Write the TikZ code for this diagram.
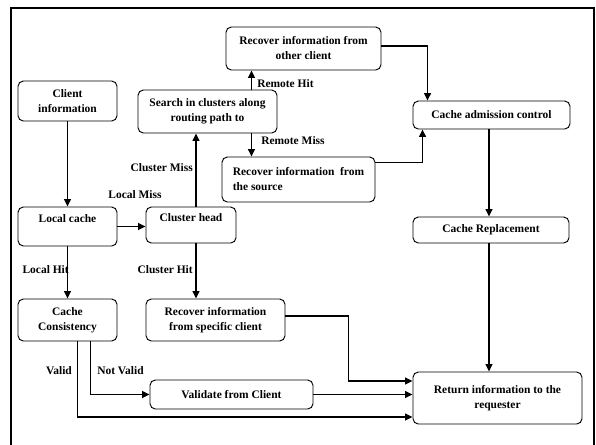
\documentclass[tikz,border=0pt]{standalone}
\usepackage{fontspec}
\setmainfont{Liberation Serif}
\usetikzlibrary{arrows.meta,calc}
\begin{document}
\begin{tikzpicture}[x=0.75pt,y=-0.75pt,
  every node/.style={font=\fontsize{8.6}{11.25}\selectfont\bfseries},
  box/.style={draw, rounded corners=4pt, line width=0.7pt, align=center, inner sep=0pt},
  lbl/.style={inner sep=0pt},
  arr/.style={line width=1.4pt, -{Triangle[length=5.5pt,width=5pt]}}]
\useasboundingbox (0,0) rectangle (596,444);
\draw[line width=1.5pt] (11,446) -- (11,8) -- (594,8) -- (594,446);
% nodes
\node[box, minimum width=74.25pt, minimum height=30pt] (ci) at (67.5,101) {Client\\information};
\node[box, minimum width=74.25pt, minimum height=29.25pt] (lc) at (67.5,226.5) {Local cache\\~};
\node[box, minimum width=67.5pt, minimum height=27pt] (ch) at (191,225) {Cluster head\\~};
\node[box, minimum width=74.25pt, minimum height=31.5pt] (cc) at (67.5,320) {Cache\\Consistency};
\node[box, minimum width=104.25pt, minimum height=31.5pt] (rs) at (215.5,320) {Recover information\\from specific client};
\node[box, minimum width=122.25pt, minimum height=21.75pt] (vc) at (231.5,394.5) {Validate from Client};
\node[box, minimum width=126.75pt, minimum height=39pt] (ret) at (497.5,398) {Return information to the\\requester};
\node[box, minimum width=117pt, minimum height=19.5pt] (cr) at (491,230) {Cache Replacement};
\node[box, minimum width=117.75pt, minimum height=21pt] (ca) at (491.5,115) {Cache admission control};
\node[box, align=left, minimum width=114.75pt, minimum height=33.75pt] (rsrc) at (298.5,179.5) {Recover information~ from\\the source};
\node[box, minimum width=116.25pt, minimum height=32.25pt] (ro) at (303.5,48.5) {Recover information from\\other client};
\node[box, minimum width=104.25pt, minimum height=32.25pt] (sr) at (207.5,111.5) {Search in clusters along\\routing path to};
% connectors
\draw[arr] (ci) -- (lc);
\draw[arr] (lc.east) -- (lc.east -| ch.west);
\draw[arr] (lc) -- (cc);
\coordinate (chn) at ($(ch.north)+(5,0)$);
\draw[arr] (chn) -- (chn |- sr.south);
\coordinate (chs) at ($(ch.south)+(5,0)$);
\draw[arr] (chs) -- (chs |- rs.north);
\coordinate (srn) at ($(sr.north east)+(-26,0)$);
\draw[arr] (srn) -- (srn |- ro.south);
\coordinate (srs) at ($(sr.south east)+(-26,0)$);
\draw[arr] (srs) -- (srs |- rsrc.north);
\draw[arr] ($(ro.east)+(0,-2.5)$) -| ($(ca.north west)+(15,0)$);
\draw[arr] ($(rsrc.north east)+(0,6)$) -| ($(ca.south west)+(10,0)$);
\draw[arr] ($(ca.south)+(-2.5,0)$) -- ($(cr.north)+(-2,0)$);
\coordinate (crs) at ($(cr.south)+(-2,0)$);
\draw[arr] (crs) -- (crs |- ret.north);
\draw[arr] ($(rs.east)+(0,-4)$) -- ($(rs.east)+(63,-4)$) |- ($(ret.west)+(0,-17)$);
\draw[arr] (vc.east) -- (vc.east -| ret.west);
\draw[arr] ($(cc.south west)+(60,0)$) |- ($(ret.west)+(0,19)$);
\draw[arr] ($(cc.south west)+(73,0)$) |- (vc.west);
% labels
\node[lbl] (lmiss) at (135,195) {Local Miss};
\node[lbl, anchor=east] (lhit) at (69,270) {Local Hit};
\node[lbl, anchor=east] (cmiss) at (193,168) {Cluster Miss};
\node[lbl, anchor=east] (chit) at (193,270) {Cluster Hit};
\node[lbl, anchor=west] (rhit) at (257,84) {Remote Hit};
\node[lbl, anchor=west] (rmiss) at (261,141) {Remote Miss};
\node[lbl] (valid) at (59,371) {Valid};
\node[lbl, anchor=west] (nvalid) at (97,371) {Not Valid};
\end{tikzpicture}
\end{document}
